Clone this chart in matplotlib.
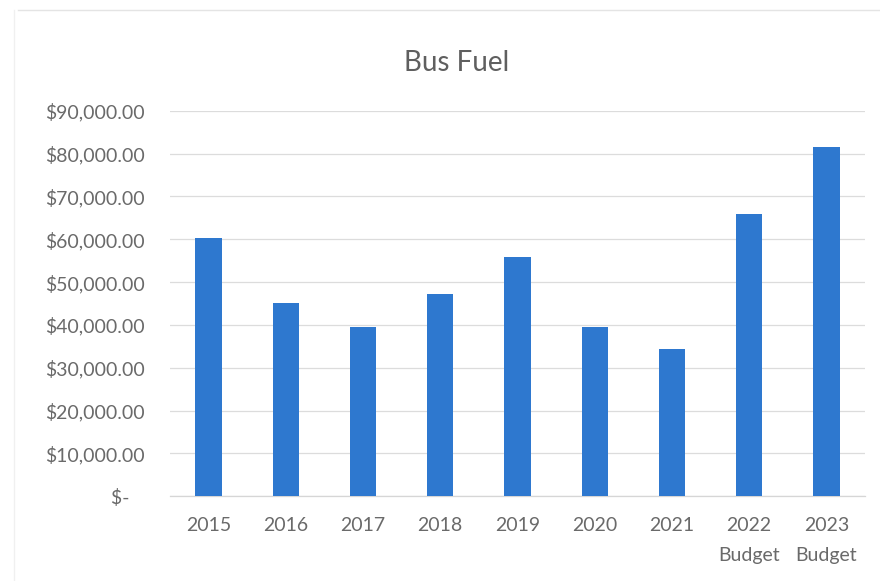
import matplotlib
matplotlib.use('Agg')
import matplotlib.pyplot as plt
from matplotlib.ticker import FuncFormatter
from matplotlib.lines import Line2D
import numpy as np

plt.rcParams['font.family'] = ['Lato', 'DejaVu Sans']

# data
categories = ['2015', '2016', '2017', '2018', '2019', '2020', '2021', '2022\nBudget', '2023\nBudget']
fuel_cost = [60300, 45200, 39500, 47200, 55900, 39400, 34300, 66000, 81500]
y_ticks = [0, 10000, 20000, 30000, 40000, 50000, 60000, 70000, 80000, 90000]

bar_color = '#2E78CF'
text_color = '#6a6a6a'

fig = plt.figure(figsize=(8.8, 5.81), dpi=100)
ax = fig.add_axes([0.193, 0.146, 0.79, 0.6633])

x = np.arange(len(categories))
ax.bar(x, fuel_cost, width=0.34, color=bar_color, zorder=3)

ax.set_xlim(-0.5, len(categories) - 0.5)
ax.set_ylim(0, 90000)
ax.set_yticks(y_ticks)

def money(v, pos):
    if v == 0:
        return '$-   '
    return '${:,.2f}'.format(v)

ax.yaxis.set_major_formatter(FuncFormatter(money))
ax.set_xticks(x)
ax.set_xticklabels(categories, linespacing=1.95)

ax.grid(axis='y', color='#dcdcdc', linewidth=0.9, zorder=0)
for s in ['top', 'right', 'left']:
    ax.spines[s].set_visible(False)
ax.spines['bottom'].set_color('#d6d6d6')
ax.spines['bottom'].set_linewidth(0.9)

ax.tick_params(axis='y', length=0, pad=18, labelsize=14, labelcolor=text_color)
ax.tick_params(axis='x', length=0, pad=15, labelsize=14, labelcolor=text_color)
for lbl in ax.get_xticklabels():
    lbl.set_verticalalignment('top')

fig.text(0.519, 0.892, 'Bus Fuel', ha='center', va='center', fontsize=20, color='#5f5f5f')

# faint chart frame from the scan
fig.add_artist(Line2D([0.02, 1.0], [0.983, 0.983], color='#e4e4e4', linewidth=1))
fig.add_artist(Line2D([0.016, 0.016], [0.0, 0.983], color='#f0f0f0', linewidth=1))

fig.savefig('out.png', dpi=100, facecolor='white')
